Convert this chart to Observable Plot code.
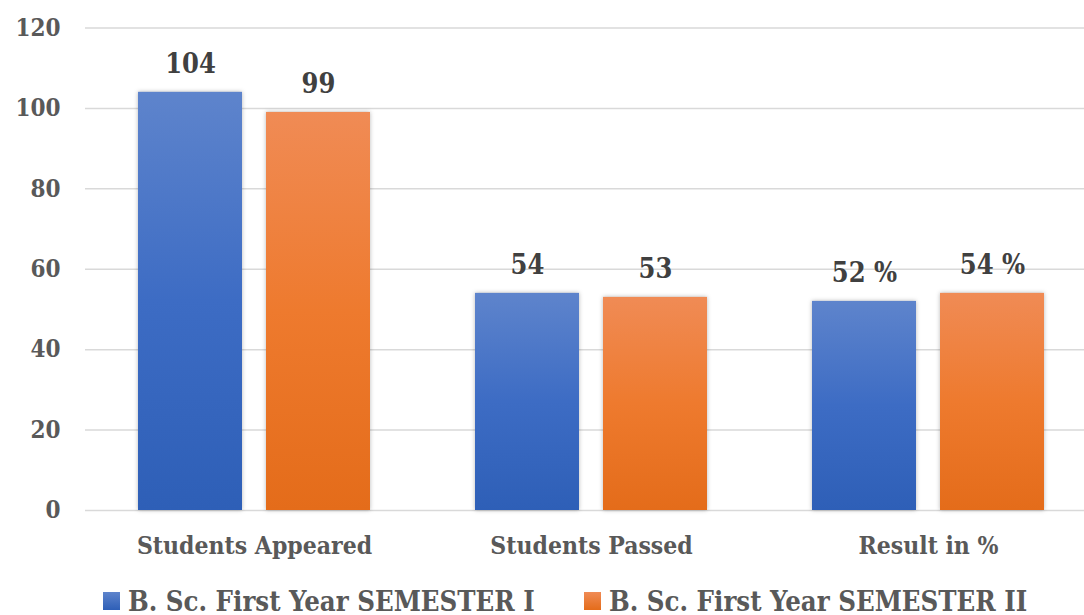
<!DOCTYPE html>
<html><head><meta charset="utf-8">
<script src="https://cdn.jsdelivr.net/npm/d3@7"></script>
<script src="https://cdn.jsdelivr.net/npm/@observablehq/plot@0.6"></script>
<style>
html,body{margin:0;padding:0;background:#fff;overflow:hidden;width:1084px;height:615px}
#wrap{position:relative;width:1084px;height:570px;overflow:hidden}
#wrap svg{position:absolute;left:0;top:0;max-width:none;background:transparent}
#legend{position:relative;width:1084px;height:45px;font-family:"DejaVu Serif Condensed","DejaVu Serif",serif;font-stretch:condensed;font-weight:bold;color:#595959;font-size:27.3px}
.item{position:absolute;top:8px;height:45px;display:flex;align-items:center;white-space:nowrap}
.sw{display:inline-block;width:17px;height:18px;margin-right:8px}
</style></head>
<body>
<div id="wrap"></div>
<div id="legend"></div>
<script>
const categories = ["Students Appeared", "Students Passed", "Result in %"];
const seriesNames = ["B. Sc. First Year SEMESTER I", "B. Sc. First Year SEMESTER II"];
const sem1Values = [104, 54, 52];
const sem2Values = [99, 53, 54];
const sem1Labels = ["104", "54", "52 %"];
const sem2Labels = ["99", "53", "54 %"];
const yTicks = [0, 20, 40, 60, 80, 100, 120];

const rows = [];
categories.forEach((c, i) => {
  rows.push({category: c, series: seriesNames[0], value: sem1Values[i], label: sem1Labels[i]});
  rows.push({category: c, series: seriesNames[1], value: sem2Values[i], label: sem2Labels[i]});
});

const FONT = '"DejaVu Serif Condensed","DejaVu Serif",serif';
const W = 1096, H = 570, ML = 85, MR = 0, MT = 27.5, MB = 60;
const baseStyle = {fontFamily: FONT, fontWeight: "bold", fontStretch: "condensed", background: "transparent", overflow: "visible"};

const back = Plot.plot({
  width: W, height: H, marginLeft: ML, marginRight: MR, marginTop: MT, marginBottom: MB,
  style: {...baseStyle, fontSize: "24px"},
  y: {domain: [0, 120]},
  marks: [
    Plot.gridY(yTicks, {stroke: "#d9d9d9", strokeOpacity: 1, strokeWidth: 1.5}),
    Plot.axisY(yTicks, {tickSize: 0, tickPadding: 25, fontSize: 24, fill: "#595959", label: null})
  ]
});

const front = Plot.plot({
  width: W, height: H, marginLeft: ML, marginRight: MR, marginTop: MT, marginBottom: MB,
  style: {...baseStyle, fontSize: "24px"},
  fx: {domain: categories, paddingInner: 0.306, paddingOuter: 0.153, label: null, axis: null},
  x: {domain: seriesNames, paddingInner: 0.186, paddingOuter: 0, axis: null},
  y: {domain: [0, 120], axis: null},
  color: {domain: seriesNames, range: ["url(#gBlue)", "url(#gOrange)"]},
  marks: [
    Plot.barY(rows, {fx: "category", x: "series", y: "value", fill: "series", imageFilter: "drop-shadow(0px 0px 2px rgba(0,0,0,0.28))"}),
    Plot.text(rows, {fx: "category", x: "series", y: "value", text: "label", lineAnchor: "middle", dy: -28, fontSize: 27, fill: "#404040"}),
    Plot.axisFx({anchor: "bottom", tickSize: 0, tickPadding: 26, fontSize: 24.5, fill: "#595959", label: null})
  ]
});

d3.select(front).insert("defs", ":first-child").html(`
  <linearGradient id="gBlue" x1="0" y1="0" x2="0" y2="1">
    <stop offset="0" stop-color="#5e84cc"/>
    <stop offset="0.5" stop-color="#3d6cc4"/>
    <stop offset="1" stop-color="#2e5fb7"/>
  </linearGradient>
  <linearGradient id="gOrange" x1="0" y1="0" x2="0" y2="1">
    <stop offset="0" stop-color="#f08b55"/>
    <stop offset="0.5" stop-color="#ee7a2e"/>
    <stop offset="1" stop-color="#e46c1a"/>
  </linearGradient>`);

document.getElementById("wrap").append(back, front);

const legend = d3.select("#legend");
const lgPos = [103, 584];
const lgColors = [["#5e84cc", "#2e5fb7"], ["#f08b55", "#e46c1a"]];
seriesNames.forEach((s, i) => {
  const it = legend.append("div").attr("class", "item").style("left", lgPos[i] + "px");
  it.append("span").attr("class", "sw").style("background", `linear-gradient(${lgColors[i][0]}, ${lgColors[i][1]})`);
  it.append("span").text(s);
});
</script>
</body></html>
